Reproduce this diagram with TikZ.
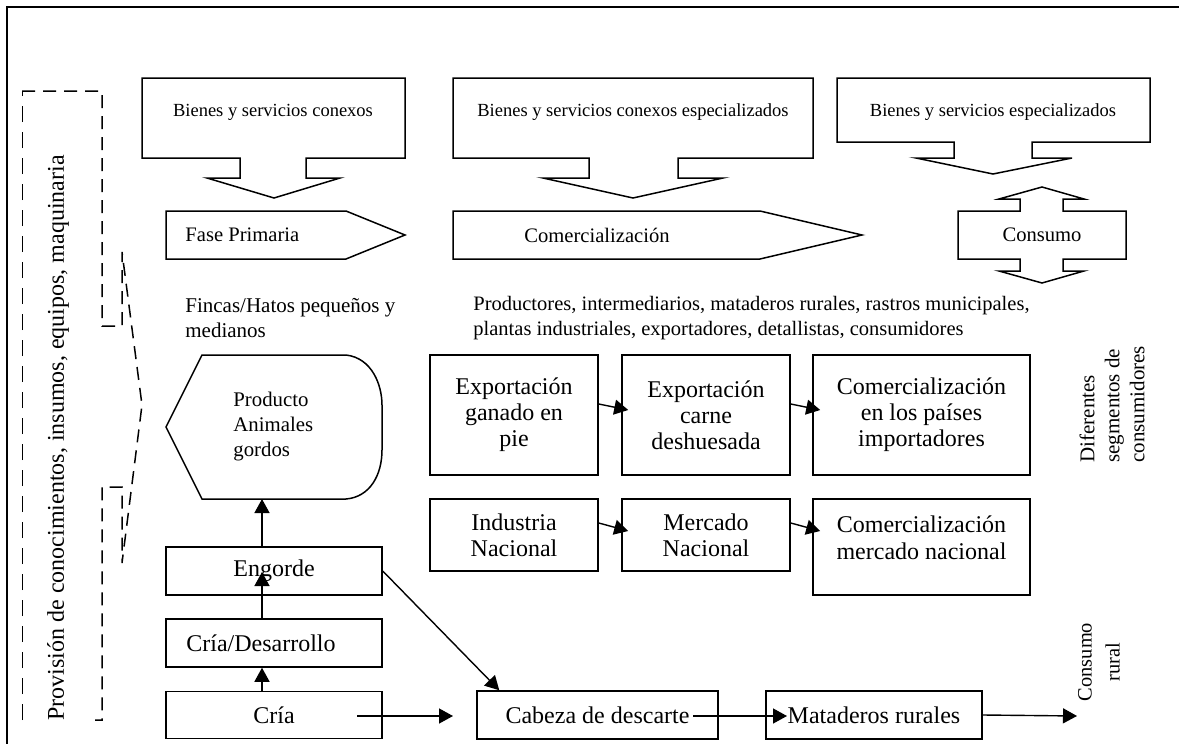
\documentclass[tikz,border=0pt]{standalone}
\usepackage{fontspec}
\setmainfont{Liberation Serif}
\usetikzlibrary{arrows.meta,calc}
\begin{document}
\begin{tikzpicture}[x=0.5pt,y=-0.5pt,
  box/.style={draw,line width=0.75pt,inner sep=0pt,font=\fontsize{12}{13}\selectfont,align=center},
  lbl/.style={inner sep=0pt,font=\fontsize{10.3}{12.5}\selectfont},
  toplbl/.style={inner sep=0pt,font=\fontsize{9.25}{11}\selectfont},
  desc/.style={inner sep=0pt,font=\fontsize{10.5}{12.5}\selectfont,align=left},
  arr/.style={-{Triangle[width=7.5pt,length=7pt]},line width=0.7pt},
  shp/.style={draw,line width=0.75pt,line join=miter},
  dsh/.style={line width=0.75pt,dash pattern=on 6.5pt off 4pt},
  dshthin/.style={line width=0.5pt,dash pattern=on 8pt off 5pt}]
\useasboundingbox (0,0) rectangle (1179,744);
% frame
\draw[line width=1.2pt] (1179,7) -- (7,7) -- (7,744);

% dashed bracket
\draw[dshthin] (22,720) -- (22,91);
\draw[dsh] (22,91) -- (102,91) -- (102,326) -- (122,326) -- (122,252) -- (142,405) -- (122,563) -- (122,487) -- (102,487) -- (102,720) -- (95,720);
\node[rotate=90,inner sep=0pt,font=\fontsize{12}{14}\selectfont] (prov) at (58,438) {Provisión de conocimientos, insumos, equipos, maquinaria};

% top callouts
\draw[shp] (142,78) -- (405,78) -- (405,158) -- (306,158) -- (306,178) -- (340,178) -- (274,198) -- (207,178) -- (240,178) -- (240,158) -- (142,158) -- cycle;
\draw[shp] (453,78) -- (813,78) -- (813,158) -- (678,158) -- (678,178) -- (723,178) -- (633,198) -- (543,178) -- (589,178) -- (589,158) -- (453,158) -- cycle;
\draw[shp] (837,78) -- (1150,78) -- (1150,142) -- (1032,142) -- (1032,158) -- (1072,158) -- (993,174) -- (916,158) -- (954,158) -- (954,142) -- (837,142) -- cycle;
\node[toplbl] (b1) at (273,112) {Bienes y servicios conexos};
\node[toplbl] (b2) at (633,112) {Bienes y servicios conexos especializados};
\node[toplbl] (b3) at (993,112) {Bienes y servicios especializados};

% phase arrows
\draw[shp] (166,211) -- (346,211) -- (405,235) -- (346,259) -- (166,259) -- cycle;
\draw[shp] (453,211) -- (760,211) -- (862,235) -- (760,259) -- (453,259) -- cycle;
\draw[shp] (958,211) -- (1020,211) -- (1020,199) -- (999,199) -- (1042,187) -- (1084,199) -- (1063,199) -- (1063,211) -- (1126,211) -- (1126,259) -- (1063,259) -- (1063,271) -- (1084,271) -- (1042,283) -- (999,271) -- (1020,271) -- (1020,259) -- (958,259) -- cycle;
\node[lbl,anchor=west] (fase) at (185,235) {Fase Primaria};
\node[lbl] (comer) at (597,235) {Comercialización};
\node[lbl] (consumo) at (1042,235) {Consumo};

% descriptions
\node[desc,anchor=west] (fincas) at (185,318) {Fincas/Hatos pequeños y\\medianos};
\node[desc,anchor=west,font=\fontsize{10.25}{12.5}\selectfont] (prod) at (473,318) {Productores, intermediarios, mataderos rurales, rastros municipales,\\plantas industriales, exportadores, detallistas, consumidores};

% product shape
\draw[shp] (166,427) -- (202,355) -- (346,355) .. controls (372,358) and (382,385) .. (382,405)
  -- (382,450) .. controls (382,475) and (370,497) .. (346,499) -- (202,499) -- cycle;
\node[inner sep=0pt,font=\fontsize{10.4}{12.5}\selectfont,align=left,anchor=west] (producto) at (233,427) {Producto\\Animales\\gordos};
\coordinate (prodbot) at (262,499);

% left chain
\node[box,minimum width=108pt,minimum height=24pt] (engorde) at (274,571) {Engorde};
\node[box,minimum width=108pt,minimum height=24pt] (criadev) at (274,643) {\hspace*{-13pt}Cría/Desarrollo};
\node[box,minimum width=108pt,minimum height=23.5pt] (cria) at (274,715) {Cría};
\coordinate (engtip) at (262,572);
\draw[arr] ($(cria.north)+(-12,0)$) -- ($(criadev.south)+(-12,0)$);
\draw[arr] ($(criadev.north)+(-12,0)$) -- (engtip);
\draw[arr] ($(engorde.north)+(-12,0)$) -- (prodbot);

% bottom row
\node[box,minimum width=120.5pt,minimum height=24pt] (cabeza) at (597.5,715) {Cabeza de descarte};
\node[box,minimum width=108pt,minimum height=24pt] (matad) at (874,715) {Mataderos rurales};
\coordinate (criaout) at (357,716);
\coordinate (cabin) at (453,716);
\coordinate (cabout) at (693,716);
\coordinate (matin) at (787,716);
\coordinate (rural) at (1077,716);
\draw[arr] (criaout) -- (cabin);
\draw[arr] (engorde.east) -- ($(cabeza.north west)+(23,0)$);
\draw[arr] (cabout) -- (matin);
\draw[arr] (matad.east) -- (rural);
\node[rotate=90,inner sep=0pt,font=\fontsize{10.2}{14}\selectfont,align=center] (consrural) at (1099,662) {Consumo\\rural};

% middle boxes
\node[box,minimum width=84pt,minimum height=60pt] (ea) at (514,415) {Exportación\\ganado en\\pie};
\node[box,minimum width=84pt,minimum height=60pt] (eb) at (706,415) {Exportación\\carne\\deshuesada};
\node[box,minimum width=108.5pt,minimum height=60pt] (ec) at (921.5,415) {Comercialización\\en los países\\importadores};
\node[box,minimum width=84pt,minimum height=36pt] (na) at (514,535) {Industria\\Nacional};
\node[box,minimum width=84pt,minimum height=36pt] (nb) at (706,535) {Mercado\\Nacional};
\node[box,minimum width=108.5pt,minimum height=48pt] (nc) at (921.5,547) {};
\node[inner sep=0pt,font=\fontsize{12}{13.5}\selectfont,align=center] (nct) at (921.5,538) {Comercialización\\mercado nacional};
\draw[arr] ($(ea.east)+(0,-11)$) -- ($(eb.west)+(7,-5)$);
\draw[arr] ($(eb.east)+(0,-11)$) -- ($(ec.west)+(8,-5)$);
\draw[arr] ($(na.east)+(0,-12)$) -- ($(nb.west)+(7,-4)$);
\draw[arr] ($(nb.east)+(0,-12)$) -- ($(nc.west)+(8,-16)$);

\node[rotate=90,inner sep=0pt,font=\fontsize{10.5}{12.5}\selectfont,align=left,anchor=west] (difer) at (1112,463) {Diferentes\\segmentos de\\consumidores};
\end{tikzpicture}
\end{document}
